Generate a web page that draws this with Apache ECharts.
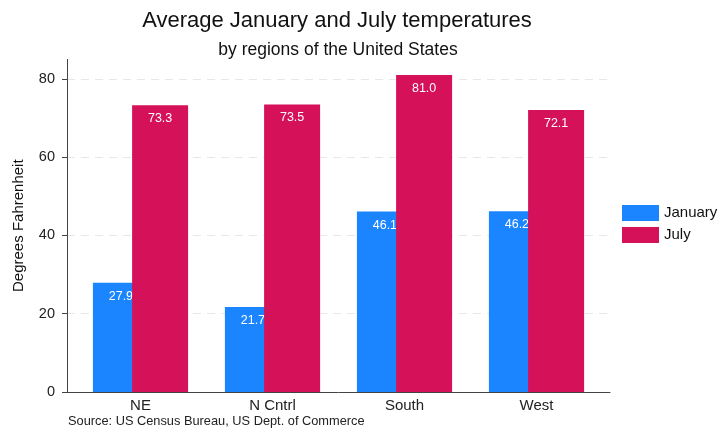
<!DOCTYPE html>
<html>
<head>
<meta charset="utf-8">
<script src="https://cdn.jsdelivr.net/npm/echarts@6/dist/echarts.min.js"></script>
<style>html,body{margin:0;padding:0;background:#fff}#c{width:726px;height:429px}</style>
</head>
<body>
<div id="c"></div>
<script>
const categories = ['NE', 'N Cntrl', 'South', 'West'];
const january = [27.9, 21.7, 46.1, 46.2];
const july = [73.3, 73.5, 81.0, 72.1];
const yTicks = [0, 20, 40, 60, 80];

const chart = echarts.init(document.getElementById('c'), null, {renderer: 'canvas'});
const font = 'Liberation Sans, Arial, sans-serif';
const labelCfg = {
  show: true, position: 'insideTop', distance: 7, color: '#ffffff',
  fontSize: 12.5, fontFamily: font, formatter: p => p.value.toFixed(1)
};
chart.setOption({
  animation: false,
  textStyle: {fontFamily: font},
  title: [
    {text: 'Average January and July temperatures', left: 332, top: 5, textAlign: 'center',
     textStyle: {fontSize: 22, fontWeight: 'normal', color: '#111', fontFamily: font}},
    {text: 'by regions of the United States', left: 333, top: 36, textAlign: 'center',
     textStyle: {fontSize: 17.5, fontWeight: 'normal', color: '#111', fontFamily: font}}
  ],
  legend: {
    orient: 'vertical', left: 617, top: 200, itemWidth: 37, itemHeight: 16, itemGap: 6,
    icon: 'rect', textStyle: {fontSize: 15, color: '#111', fontFamily: font},
    data: ['January', 'July']
  },
  grid: [
    {left: 67, right: 116, top: 59.4, bottom: 37},
    {left: 74.5, right: 123.5, top: 59.4, bottom: 37}
  ],
  xAxis: [
    {gridIndex: 0, type: 'value', min: 0, max: 1, axisLine: {show: true, lineStyle: {color: '#444', width: 1}},
     axisTick: {show: false}, axisLabel: {show: false}, splitLine: {show: false}},
    {gridIndex: 1, type: 'category', data: categories, axisLine: {show: false}, axisTick: {show: false},
     axisLabel: {fontSize: 15, color: '#222', margin: 6, fontFamily: font}}
  ],
  yAxis: [
    {gridIndex: 0, type: 'value', min: 0, max: 85, interval: 20,
     name: 'Degrees Fahrenheit', nameLocation: 'middle', nameGap: 41,
     nameTextStyle: {fontSize: 15, color: '#111', fontFamily: font},
     axisLine: {show: true, lineStyle: {color: '#444', width: 1}},
     axisTick: {show: true, length: 5, lineStyle: {color: '#444'}, customValues: yTicks},
     axisLabel: {fontSize: 14.5, color: '#222', margin: 12, customValues: yTicks, fontFamily: font},
     splitLine: {show: true, showMinLine: false, showMaxLine: true,
       lineStyle: {color: '#e8e8e8', type: [8, 6], width: 1}}},
    {gridIndex: 1, type: 'value', min: 0, max: 85, show: false, splitLine: {show: false}}
  ],
  series: [
    {name: 'January', type: 'bar', xAxisIndex: 1, yAxisIndex: 1, data: january,
     barWidth: 56, barGap: '-30%', z: 2, itemStyle: {color: '#1a85ff'}, label: labelCfg},
    {name: 'July', type: 'bar', xAxisIndex: 1, yAxisIndex: 1, data: july,
     barWidth: 56, barGap: '-30%', z: 3, itemStyle: {color: '#d41159'}, label: labelCfg}
  ],
  graphic: [
    {type: 'text', left: 68, top: 415,
     style: {text: 'Source: US Census Bureau, US Dept. of Commerce', fontSize: 12.8, fill: '#222', fontFamily: font}}
  ]
});
</script>
</body>
</html>
